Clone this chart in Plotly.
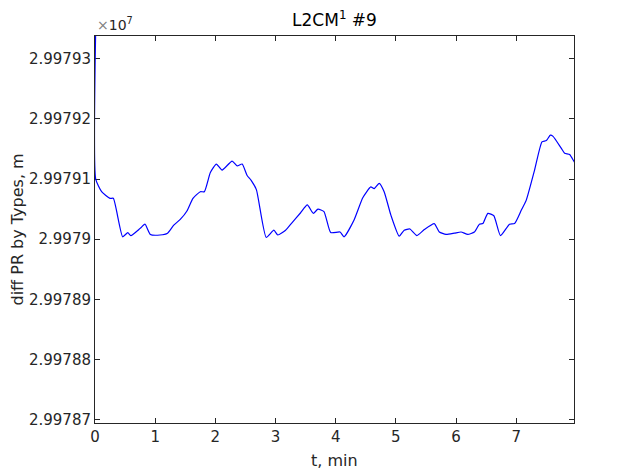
"""
L2CM #9: difference of pseudoranges by types over time (MATLAB-style line plot).
"""

import numpy as np
import plotly.graph_objects as go

# time, min
t_min = [
    0.01, 0.012, 0.11, 0.25, 0.305, 0.46, 0.545, 0.595, 0.75, 0.83,
    0.92, 1.08, 1.205, 1.305, 1.417, 1.528, 1.628, 1.75, 1.817, 1.917,
    2.017, 2.112, 2.278, 2.362, 2.445, 2.528, 2.595, 2.683, 2.845, 2.972,
    3.038, 3.167, 3.262, 3.417, 3.528, 3.628, 3.705, 3.805, 3.917, 4.072,
    4.138, 4.305, 4.45, 4.583, 4.638, 4.722, 4.805, 4.917, 5.055, 5.138,
    5.233, 5.35, 5.472, 5.638, 5.722, 5.833, 5.972, 6.083, 6.195, 6.305,
    6.388, 6.445, 6.528, 6.628, 6.738, 6.888, 6.972, 7.083, 7.167, 7.305,
    7.428, 7.5, 7.567, 7.612, 7.75, 7.805, 7.888, 7.962, 7.98,
]

# diff PR by types, m
diff_pr = [
    29979340, 29979100, 29979079, 29979068, 29979068, 29979004, 29979011, 29979006, 29979018, 29979025,
    29979008, 29979007, 29979010, 29979023, 29979033, 29979047, 29979068, 29979079, 29979079, 29979111,
    29979125, 29979115, 29979130, 29979122, 29979125, 29979106, 29979098, 29979082, 29979003, 29979015,
    29979007, 29979015, 29979026, 29979044, 29979057, 29979043, 29979050, 29979046, 29979011, 29979012,
    29979004, 29979032, 29979069, 29979087, 29979084, 29979093, 29979079, 29979040, 29979005, 29979015,
    29979017, 29979006, 29979016, 29979026, 29979012, 29979008, 29979010, 29979012, 29979008, 29979012,
    29979025, 29979026, 29979043, 29979039, 29979006, 29979025, 29979026, 29979048, 29979065, 29979115,
    29979162, 29979164, 29979173, 29979171, 29979151, 29979143, 29979141, 29979129, 29979127,
]

EXP = 1e7  # axis shows values x10^7
AX_COLOR = "#262626"
FONT = "DejaVu Sans"

y_scaled = np.array(diff_pr) / EXP

fig = go.Figure()
fig.add_trace(
    go.Scatter(
        x=t_min, y=y_scaled,
        mode="lines",
        line=dict(color="rgb(0,0,255)", width=1.2, shape="spline", smoothing=0.5),
        showlegend=False,
    )
)

axis_common = dict(
    showline=True, linecolor=AX_COLOR, linewidth=1, mirror="ticks",
    ticks="inside", ticklen=5, tickcolor=AX_COLOR, tickwidth=1,
    showgrid=False, zeroline=False, layer="below traces",
    tickfont=dict(family=FONT, size=15, color=AX_COLOR),
)

fig.update_xaxes(range=[0, 7.96], dtick=1, tick0=0, **axis_common)
fig.update_yaxes(range=[2.99786943, 2.9979338], dtick=0.00001, tick0=2.99787,
                 tickformat=".6~g", **axis_common)

# page body adds an 8px offset, so the figure is 8px smaller than the window
fig.update_layout(
    width=627, height=468,
    margin=dict(l=87, r=61, t=28, b=53),
    paper_bgcolor="white", plot_bgcolor="white",
    title=dict(text="L2CM<sup>1</sup> #9", xref="paper", x=0.5, xanchor="center",
               y=0.974, yanchor="middle",
               font=dict(family=FONT, size=17, color="black")),
    annotations=[
        dict(text="t, min", xref="paper", yref="paper", x=0.5, y=-0.097,
             xanchor="center", yanchor="middle", showarrow=False,
             font=dict(family=FONT, size=16, color=AX_COLOR)),
        dict(text="diff PR by Types, m", xref="paper", yref="paper", x=-0.1608, y=0.5,
             xanchor="center", yanchor="middle", textangle=-90, showarrow=False,
             font=dict(family=FONT, size=16, color=AX_COLOR)),
        dict(text="<span style='color:#808080'>×</span>10<sup>7</sup>",
             xref="paper", yref="paper", x=0.0, y=1.0, yshift=1,
             xanchor="left", yanchor="bottom", showarrow=False,
             font=dict(family=FONT, size=14, color=AX_COLOR)),
    ],
)

fig.write_html("out.html")
